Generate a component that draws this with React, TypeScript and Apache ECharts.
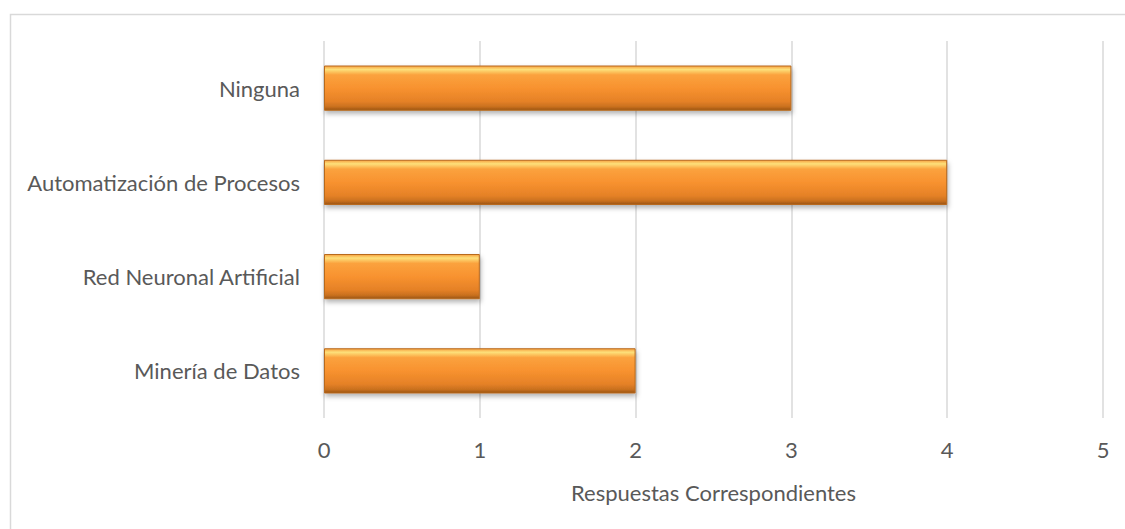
import React, { useEffect, useRef } from "react";
import * as echarts from "echarts";

const categories = ["Minería de Datos", "Red Neuronal Artificial", "Automatización de Procesos", "Ninguna"];
const values = [2, 1, 4, 3];
const axisName = "Respuestas Correspondientes";

export default function App() {
  const ref = useRef<HTMLDivElement>(null);
  useEffect(() => {
    if (!ref.current) return;
    const chart = echarts.init(ref.current, null, { renderer: "svg" });
    const font = "Lato, 'Open Sans', sans-serif";
    chart.setOption({
      animation: false,
      backgroundColor: "#ffffff",
      graphic: [
        {
          type: "rect",
          left: 8,
          top: 12,
          shape: { width: 1200, height: 600 },
          style: { fill: "none", stroke: "#d9d9d9", lineWidth: 1.5 },
          silent: true,
        },
      ],
      grid: { left: 324, right: 22, top: 41, bottom: 111, containLabel: false },
      xAxis: {
        type: "value",
        min: 0,
        max: 5,
        interval: 1,
        name: axisName,
        nameLocation: "middle",
        nameGap: 63,
        nameTextStyle: { fontFamily: font, fontSize: 22, color: "#595959" },
        axisLine: { show: false },
        axisTick: { show: false },
        axisLabel: { fontFamily: font, fontSize: 22, color: "#595959", margin: 20 },
        splitLine: { show: true, lineStyle: { color: "#d9d9d9", width: 1.5 } },
      },
      yAxis: {
        type: "category",
        data: categories,
        axisLine: { show: false },
        axisTick: { show: false },
        axisLabel: { fontFamily: font, fontSize: 22, color: "#595959", margin: 24 },
      },
      series: [
        {
          type: "bar",
          data: values,
          barWidth: "48%",
          itemStyle: {
            color: new echarts.graphic.LinearGradient(0, 0, 0, 1, [
              { offset: 0, color: "#f7a040" },
              { offset: 0.08, color: "#fde07a" },
              { offset: 0.2, color: "#fba23e" },
              { offset: 0.5, color: "#f8922f" },
              { offset: 0.8, color: "#e58127" },
              { offset: 0.92, color: "#c9701e" },
              { offset: 1, color: "#9a5414" },
            ]),
            borderColor: "#b86a1e",
            borderWidth: 1,
            shadowColor: "rgba(0,0,0,0.3)",
            shadowBlur: 5,
            shadowOffsetY: 3,
            shadowOffsetX: 1,
          },
        },
      ],
    });
    return () => chart.dispose();
  }, []);
  return (
    <div
      ref={ref}
      style={{ position: "fixed", left: 0, top: 0, width: 1125, height: 529 }}
    />
  );
}
